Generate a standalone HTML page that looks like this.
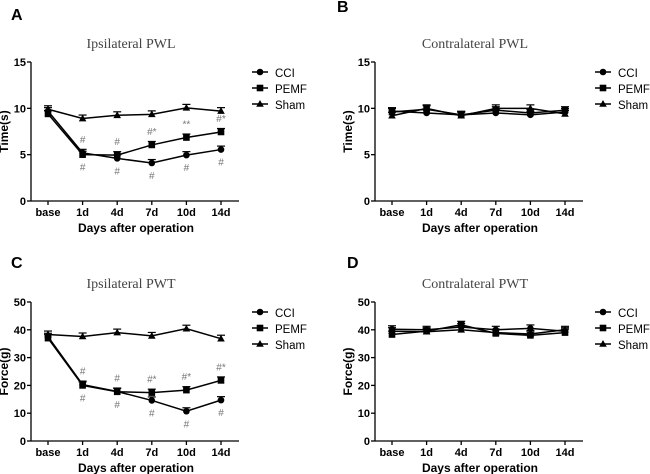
<!DOCTYPE html>
<html><head><meta charset="utf-8">
<style>
body{margin:0;background:#fff;}
svg{display:block;font-family:"Liberation Sans",Arial,sans-serif;}
</style></head>
<body>
<svg id="chart" width="650" height="474" viewBox="0 0 650 474"></svg>
<script>
const categories = ["base","1d","4d","7d","10d","14d"];
const seriesNames = ["CCI","PEMF","Sham"];
const aCCI  = [9.7,5.2,4.6,4.1,4.95,5.55];
const aPEMF = [9.4,5.0,4.95,6.05,6.85,7.45];
const aSham = [9.9,8.9,9.25,9.35,10.05,9.7];
const bCCI  = [9.7,9.5,9.3,9.5,9.3,9.6];
const bPEMF = [9.6,9.9,9.3,9.8,9.5,9.8];
const bSham = [9.2,10.0,9.2,10.0,10.0,9.4];
const cCCI  = [37.5,20.3,17.8,14.6,10.7,14.7];
const cPEMF = [37.0,20.0,17.7,17.4,18.3,21.8];
const cSham = [38.3,37.6,39.0,37.8,40.4,36.8];
const dCCI  = [40.2,40.0,41.0,40.0,40.5,39.5];
const dPEMF = [38.3,39.5,41.8,38.7,38.0,39.0];
const dSham = [39.5,39.3,40.0,39.0,38.5,40.0];
const ticksTime = [0,5,10,15];
const ticksForce = [0,10,20,30,40,50];
const aAbove = ["","#","#","#*","**","#*"];
const aBelow = ["","#","#","#","#","#"];
const cAbove = ["","#","#","#*","#*","#*"];
const cBelow = ["","#","#","#","#","#"];

const NS="http://www.w3.org/2000/svg";
const svg=document.getElementById('chart');
function mk(tag,attrs,parent,text){const e=document.createElementNS(NS,tag);for(const k in attrs)e.setAttribute(k,attrs[k]);if(text!==undefined)e.textContent=text;(parent||svg).appendChild(e);return e;}

function panel(p){
  const g=mk('g',{});
  
  
  const x0=p.ax, yTop=p.top, yBot=p.top+139, ymax=p.ticks[p.ticks.length-1];
  const xS=i=>p.ax+17+i*34.6;
  const yS=v=>yBot-(v/ymax)*(yBot-yTop);
  const L=mk('text',{x:p.lx,y:p.ly,'font-size':16,'font-weight':'bold'},g,p.id);
  
  const t=mk('text',{x:x0+100,y:p.top-14,'font-size':14,'text-anchor':'middle','font-family':'"Liberation Serif",serif',fill:'#444'},g,p.title);
  
  const ya=mk('line',{x1:x0,y1:yTop,x2:x0,y2:yBot,stroke:'#000','stroke-width':1.3},g);
  
  const xa=mk('line',{x1:x0,y1:yBot,x2:x0+208,y2:yBot,stroke:'#000','stroke-width':1.3},g);
  
  p.ticks.forEach(v=>{
    mk('line',{x1:x0-4,y1:yS(v),x2:x0,y2:yS(v),stroke:'#000','stroke-width':1.3},g);
    const tl=mk('text',{x:x0-5,y:yS(v)+4,'font-size':11,'font-weight':'bold','text-anchor':'end'},g,v);
    
  });
  categories.forEach((c,i)=>{
    mk('line',{x1:xS(i),y1:yBot,x2:xS(i),y2:yBot+4,stroke:'#000','stroke-width':1.3},g);
    const tl=mk('text',{x:xS(i),y:yBot+15,'font-size':11,'font-weight':'bold','text-anchor':'middle'},g,c);
    
  });
  const xt=mk('text',{x:x0+105,y:yBot+31,'font-size':12,'font-weight':'bold','text-anchor':'middle'},g,'Days after operation');
  
  const yc=(yTop+yBot)/2, yx=p.ax-23;
  const yt=mk('text',{x:yx,y:yc,'font-size':12,'font-weight':'bold','text-anchor':'middle',transform:`rotate(-90 ${yx} ${yc})`},g,p.ylab);
  
  const data=[p.cci,p.pemf,p.sham];
  const err=ymax*0.025;
  data.forEach((arr,si)=>{
    const sg=mk('g',{},g);
    
    
    mk('polyline',{points:arr.map((v,i)=>xS(i)+','+yS(v)).join(' '),fill:'none',stroke:'#000','stroke-width':1.5},sg);
    arr.forEach((v,i)=>{
      const x=xS(i),y=yS(v),e=err*139/ymax;
      mk('line',{x1:x,y1:y-e,x2:x,y2:y,stroke:'#000','stroke-width':1.2},sg);
      mk('line',{x1:x-4,y1:y-e,x2:x+4,y2:y-e,stroke:'#000','stroke-width':1.2},sg);
      marker(sg,si,x,y,'point');
    });
  });
  if(p.above){
    p.above.forEach((s,i)=>{ if(!s)return;
      const top=Math.min(p.pemf[i],p.cci[i]);
      const a=mk('text',{x:xS(i),y:yS(Math.max(p.pemf[i],p.cci[i]))-10,'font-size':10,fill:'#777','text-anchor':'middle'},g,s);
      
      const b=mk('text',{x:xS(i),y:yS(top)+16,'font-size':10,fill:'#777','text-anchor':'middle'},g,p.below[i]);
      
    });
  }
  seriesNames.forEach((n,si)=>{
    const lg=mk('g',{},g);
    
    
    const ly=p.top+10+si*16;
    mk('line',{x1:p.legx,y1:ly,x2:p.legx+16,y2:ly,stroke:'#000','stroke-width':1.5},lg);
    marker(lg,si,p.legx+8,ly,'legend-marker');
    mk('text',{x:p.legx+23,y:ly+5,'font-size':11.5},lg,n);
  });
}
function marker(par,si,x,y,name){
  let m;
  if(si===0) m=mk('circle',{cx:x,cy:y,r:3.3,fill:'#000'},par);
  else if(si===1) m=mk('rect',{x:x-3.3,y:y-3.3,width:6.6,height:6.6,fill:'#000'},par);
  else m=mk('polygon',{points:`${x},${y-4} ${x-3.8},${y+2.8} ${x+3.8},${y+2.8}`,fill:'#000'},par);
  
}
panel({id:'A',lx:11,ly:20,ax:31,top:62,ticks:ticksTime,title:'Ipsilateral PWL',ylab:'Time(s)',cci:aCCI,pemf:aPEMF,sham:aSham,legx:252,above:aAbove,below:aBelow});
panel({id:'B',lx:337,ly:12,ax:375,top:62,ticks:ticksTime,title:'Contralateral PWL',ylab:'Time(s)',cci:bCCI,pemf:bPEMF,sham:bSham,legx:595});
panel({id:'C',lx:11,ly:268,ax:31,top:302,ticks:ticksForce,title:'Ipsilateral PWT',ylab:'Force(g)',cci:cCCI,pemf:cPEMF,sham:cSham,legx:252,above:cAbove,below:cBelow});
panel({id:'D',lx:347,ly:268,ax:375,top:302,ticks:ticksForce,title:'Contralateral PWT',ylab:'Force(g)',cci:dCCI,pemf:dPEMF,sham:dSham,legx:595});
</script>
</body></html>
